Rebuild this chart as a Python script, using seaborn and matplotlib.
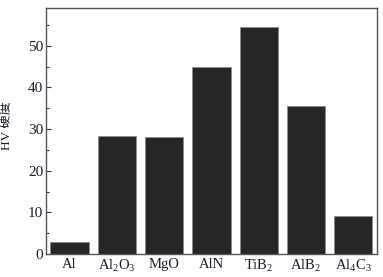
import matplotlib
matplotlib.use("Agg")
import matplotlib.pyplot as plt
import seaborn as sns
import pandas as pd
from matplotlib.ticker import MultipleLocator

sns.set_theme(style="white")
plt.rcParams['font.family'] = ['Liberation Serif', 'Noto Sans CJK SC']
plt.rcParams['mathtext.default'] = 'regular'
plt.rcParams['axes.unicode_minus'] = False

materials = ["Al", r"Al$_2$O$_3$", "MgO", "AlN", r"TiB$_2$", r"AlB$_2$", r"Al$_4$C$_3$"]
hardness = [2.8, 28.3, 28.2, 45.0, 54.6, 35.6, 9.2]
yticks = [0, 10, 20, 30, 40, 50]

text_color = "#1c1c30"

df = pd.DataFrame({"material": materials, "hv": hardness})

fig = plt.figure(figsize=(3.83, 2.77), dpi=100)
ax = fig.add_axes([0.120, 0.083, 0.864, 0.887])

sns.barplot(data=df, x="material", y="hv", color="#262626", width=0.81,
            saturation=1, edgecolor="#8a8a8a", linewidth=0.6, ax=ax)

ax.set_xlim(-0.5, 6.5)
ax.set_ylim(0, 59)
ax.set_yticks(yticks)
ax.yaxis.set_minor_locator(MultipleLocator(5))
ax.tick_params(axis="y", which="major", direction="in", length=3.5, width=0.8,
               left=True, labelsize=11, colors="#333333", labelcolor=text_color, pad=2)
ax.tick_params(axis="y", which="minor", direction="in", length=2, width=0.8, left=True,
               colors="#333333")
ax.tick_params(axis="x", bottom=False, length=0, labelsize=10.5, labelcolor=text_color, pad=3)

for s in ax.spines.values():
    s.set_color("#555555")
    s.set_linewidth(1.0)

ax.set_xlabel("")
ax.set_ylabel("HV 硬度", fontsize=9.5, color=text_color)
ax.yaxis.set_label_coords(-0.098, 0.524)

fig.savefig("out.png", dpi=100)
